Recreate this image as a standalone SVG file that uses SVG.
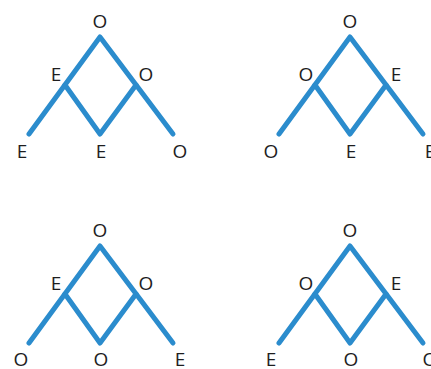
<svg xmlns="http://www.w3.org/2000/svg" width="431" height="369" viewBox="0 0 431 369">
<style>
.edge{fill:none;stroke:#2b8ccd;stroke-width:5;stroke-linecap:round;stroke-linejoin:round}
.lbl{font-family:"Open Sans","Noto Sans",sans-serif;font-size:19px;fill:#1e1e1e;text-anchor:middle}
</style>
<defs>
<g id="tree">
<path class="edge" d="M29,134 L100,37 L173,134"/>
<path class="edge" d="M65,85 L100,134 L136,85"/>
</g>
</defs>
<g id="connectors">
<use href="#tree"/>
<use href="#tree" transform="translate(250,0)"/>
<use href="#tree" transform="translate(0,209)"/>
<use href="#tree" transform="translate(250,209)"/>
</g>
<g id="diagram1">
<text class="lbl" x="100" y="28">O</text>
<text class="lbl" x="56" y="81">E</text>
<text class="lbl" x="146" y="81">O</text>
<text class="lbl" x="22" y="158">E</text>
<text class="lbl" x="101" y="158">E</text>
<text class="lbl" x="180" y="158">O</text>
</g>
<g id="diagram2">
<text class="lbl" x="350" y="28">O</text>
<text class="lbl" x="306" y="81">O</text>
<text class="lbl" x="396" y="81">E</text>
<text class="lbl" x="271" y="158">O</text>
<text class="lbl" x="351" y="158">E</text>
<text class="lbl" x="430" y="158">E</text>
</g>
<g id="diagram3">
<text class="lbl" x="100" y="237">O</text>
<text class="lbl" x="56" y="290">E</text>
<text class="lbl" x="146" y="290">O</text>
<text class="lbl" x="21" y="366">O</text>
<text class="lbl" x="101" y="366">O</text>
<text class="lbl" x="180" y="366">E</text>
</g>
<g id="diagram4">
<text class="lbl" x="350" y="237">O</text>
<text class="lbl" x="306" y="290">O</text>
<text class="lbl" x="396" y="290">E</text>
<text class="lbl" x="271" y="366">E</text>
<text class="lbl" x="351" y="366">O</text>
<text class="lbl" x="430" y="366">O</text>
</g>
</svg>
